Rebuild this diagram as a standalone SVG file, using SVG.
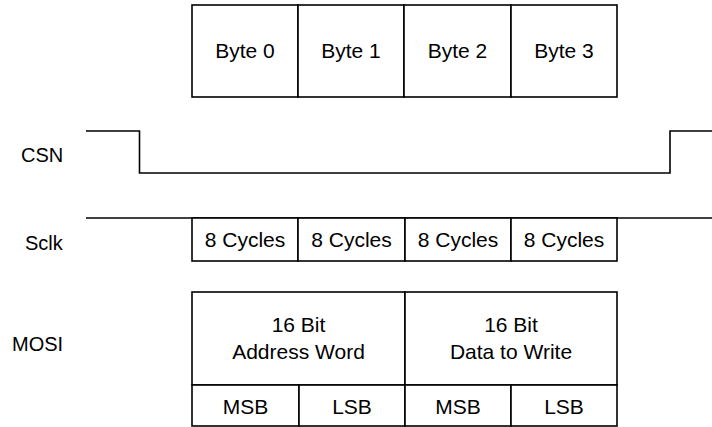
<svg xmlns="http://www.w3.org/2000/svg" width="712" height="427" viewBox="0 0 712 427">
<style>
.b{fill:#fff;stroke:#000;stroke-width:1.6}
.w{fill:none;stroke:#000;stroke-width:1.6}
text{font-family:"Liberation Sans",Arial,sans-serif;font-size:21px;fill:#000}
.l{font-size:20px}
.c{text-anchor:middle}
</style>
<rect width="712" height="427" fill="#fff"/>
<g id="bytes">
<rect class="b" x="192" y="5" width="106" height="92"/>
<rect class="b" x="298" y="5" width="106" height="92"/>
<rect class="b" x="404" y="5" width="107" height="92"/>
<rect class="b" x="511" y="5" width="106" height="92"/>
<text class="c" x="245" y="58">Byte 0</text>
<text class="c" x="351" y="58">Byte 1</text>
<text class="c" x="457.5" y="58">Byte 2</text>
<text class="c" x="564" y="58">Byte 3</text>
</g>
<g id="csn">
<text class="l" x="21" y="162">CSN</text>
<polyline class="w" points="86,131 139.5,131 139.5,173 670,173 670,131 712,131"/>
</g>
<g id="sclk">
<text class="l" x="25" y="250">Sclk</text>
<line class="w" x1="86" y1="218" x2="712" y2="218"/>
<rect class="b" x="192" y="218" width="106" height="43"/>
<rect class="b" x="298" y="218" width="107" height="43"/>
<rect class="b" x="405" y="218" width="106" height="43"/>
<rect class="b" x="511" y="218" width="106" height="43"/>
<text class="c" x="245" y="247">8 Cycles</text>
<text class="c" x="351.5" y="247">8 Cycles</text>
<text class="c" x="458" y="247">8 Cycles</text>
<text class="c" x="564" y="247">8 Cycles</text>
</g>
<g id="mosi">
<text class="l" x="12" y="351">MOSI</text>
<rect class="b" x="192" y="292" width="213" height="93"/>
<rect class="b" x="405" y="292" width="212" height="93"/>
<rect class="b" x="192" y="385" width="107" height="41"/>
<rect class="b" x="299" y="385" width="106" height="41"/>
<rect class="b" x="405" y="385" width="106" height="41"/>
<rect class="b" x="511" y="385" width="106" height="41"/>
<text class="c" x="298.5" y="332">16 Bit</text>
<text class="c" x="298.5" y="359">Address Word</text>
<text class="c" x="511" y="332">16 Bit</text>
<text class="c" x="511" y="359">Data to Write</text>
<text class="c" x="245.5" y="414">MSB</text>
<text class="c" x="352" y="414">LSB</text>
<text class="c" x="458" y="414">MSB</text>
<text class="c" x="564" y="414">LSB</text>
</g>
</svg>
